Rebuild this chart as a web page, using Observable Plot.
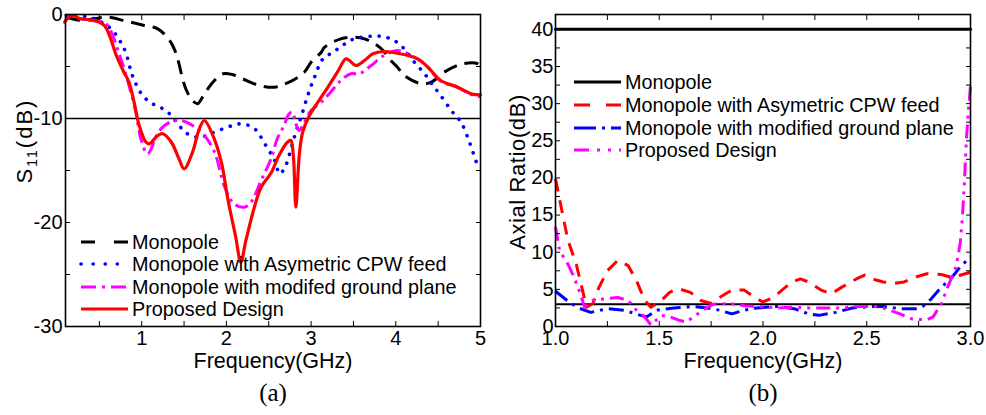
<!DOCTYPE html>
<html><head><meta charset="utf-8">
<script src="https://cdn.jsdelivr.net/npm/d3@7"></script>
<script src="https://cdn.jsdelivr.net/npm/@observablehq/plot@0.6"></script>
<style>
body{margin:0;background:#fff;}
#wrap{display:flex;width:986px;height:415px;overflow:hidden;}
#wrap svg{flex:none;}
</style></head><body><div id="wrap"></div>
<script>
// ---------- Panel (a): S11 (dB) vs Frequency (GHz) ----------
const seriesNamesA = ["Monopole", "Monopole with Asymetric CPW feed", "Monopole with modifed ground plane", "Proposed Design"];

const fA_mono = [0.11,0.30,0.44,0.60,0.79,1.03,1.19,1.33,1.40,1.52,1.60,1.66,1.74,1.84,1.96,2.07,2.19,2.39,2.57,2.66,2.78,2.92,3.00,3.12,3.16,3.35,3.51,3.63,3.75,3.85,3.94,4.02,4.10,4.30,4.42,4.57,4.79,4.97,5.00];
const sA_mono = [-0.26,-0.58,-0.41,-0.26,-0.58,-1.06,-1.38,-2.5,-3.63,-7.14,-8.27,-8.58,-7.63,-6.51,-5.70,-5.77,-6.18,-6.83,-6.99,-6.76,-6.35,-5.55,-4.59,-3.63,-3.14,-2.34,-2.18,-2.34,-2.82,-3.46,-4.42,-5.07,-5.87,-6.66,-6.51,-5.55,-4.74,-4.74,-5.07];

const fA_cpw = [0.11,0.38,0.62,0.74,0.81,0.89,1.01,1.13,1.25,1.35,1.44,1.54,1.68,1.82,2.01,2.17,2.33,2.45,2.57,2.63,2.70,2.76,2.82,2.88,2.96,3.04,3.14,3.26,3.37,3.51,3.71,3.85,3.98,4.10,4.22,4.34,4.44,4.53,4.67,4.77,4.87,4.97,5.00];
const sA_cpw = [-0.1,-0.26,-1.25,-2.5,-3.63,-5.87,-7.79,-8.59,-9.07,-9.71,-10.67,-11.47,-11.83,-11.44,-10.84,-10.51,-10.96,-12.40,-14.04,-15.32,-14.52,-13.0,-11.3,-9.9,-7.79,-6.03,-4.26,-3.63,-2.98,-2.34,-2.09,-2.12,-2.5,-3.3,-4.59,-5.7,-6.83,-7.79,-9.39,-10.36,-12.28,-14.52,-14.8];

const fA_gnd = [0.10,0.17,0.28,0.44,0.58,0.74,0.85,0.93,0.99,1.07,1.21,1.33,1.46,1.60,1.74,1.86,1.98,2.09,2.21,2.29,2.41,2.53,2.60,2.68,2.74,2.78,2.82,2.86,2.92,3.00,3.12,3.23,3.35,3.47,3.57,3.71,3.86,4.02,4.26,4.38,4.53,4.73,4.89,5.00];
const sA_gnd = [-0.6,-0.1,-0.4,-0.6,-0.9,-3.94,-6.83,-9.39,-11.95,-13.39,-11.15,-10.36,-10.19,-10.67,-11.63,-13.24,-16.6,-18.2,-18.53,-18.05,-15.96,-13.8,-11.95,-10.67,-9.55,-9.39,-10.51,-11.15,-10.36,-9.23,-8.43,-7.47,-6.35,-5.70,-5.70,-4.90,-3.94,-3.46,-4.3,-5.1,-6.4,-7.0,-7.7,-7.9];

const fA_prop = [0.09,0.17,0.28,0.44,0.56,0.62,0.70,0.78,0.85,0.91,0.97,1.05,1.09,1.19,1.25,1.35,1.44,1.50,1.60,1.68,1.74,1.84,1.94,2.02,2.11,2.17,2.23,2.33,2.41,2.53,2.62,2.72,2.76,2.79,2.82,2.86,2.90,2.98,3.08,3.21,3.31,3.41,3.45,3.53,3.63,3.73,3.86,4.02,4.26,4.38,4.53,4.73,4.89,5.00];
const sA_prop = [-0.74,-0.1,-0.41,-0.58,-1.06,-2.02,-3.94,-5.38,-6.51,-8.43,-10.67,-12.28,-12.43,-11.63,-11.47,-12.28,-13.88,-14.84,-13.24,-10.99,-10.19,-11.63,-14.2,-17.88,-21.41,-23.82,-21.73,-18.53,-16.61,-15.2,-13.56,-12.28,-12.12,-13.56,-18.53,-13.56,-11.32,-9.71,-8.43,-6.83,-5.55,-4.26,-4.42,-4.90,-4.42,-3.78,-3.56,-3.72,-4.26,-5.07,-6.35,-6.99,-7.63,-7.72];

const s11Threshold = [-10];
const xTickLabelsA = [1, 2, 3, 4, 5];
const yTickLabelsA = [0, -10, -20, -30];

// ---------- Panel (b): Axial Ratio (dB) vs Frequency (GHz) ----------
const seriesNamesB = ["Monopole", "Monopole with Asymetric CPW feed", "Monopole with modified ground plane", "Proposed Design"];

const fB_mono = [1.0, 3.0];
const arB_mono = [40, 40];

const fB_cpw = [1.0,1.04,1.06,1.10,1.13,1.15,1.18,1.21,1.25,1.30,1.35,1.39,1.43,1.46,1.51,1.55,1.59,1.65,1.70,1.75,1.79,1.85,1.91,1.96,2.00,2.05,2.10,2.14,2.18,2.22,2.28,2.33,2.38,2.45,2.49,2.54,2.58,2.63,2.68,2.74,2.79,2.86,2.91,2.95,3.00];
const arB_cpw = [19.9,14.3,11.6,8.4,4.9,2.6,3.1,5.3,7.5,8.9,8.2,6.2,3.5,2.6,3.5,4.6,5.1,4.6,3.5,3.1,3.9,4.9,4.9,3.9,3.3,3.9,5.1,6.0,6.4,6.0,4.9,4.4,5.3,6.4,6.9,6.3,6.0,5.8,6.0,6.7,7.1,7.0,6.6,6.9,7.3];

const fB_gnd = [1.0,1.056,1.11,1.17,1.25,1.33,1.41,1.44,1.49,1.57,1.66,1.73,1.79,1.85,1.91,1.97,2.07,2.15,2.22,2.27,2.35,2.43,2.53,2.58,2.66,2.74,2.77,2.81,2.86,2.91,2.95,3.00];
const arB_gnd = [4.75,3.5,2.5,1.9,2.4,2.2,1.5,1.3,2.2,2.5,2.7,2.5,2.2,1.7,2.2,2.5,2.7,2.4,1.7,1.5,1.9,2.5,2.7,2.7,2.4,2.4,2.7,3.7,5.3,6.6,8.0,9.4];

const fB_prop = [1.0,1.02,1.06,1.09,1.12,1.14,1.18,1.23,1.30,1.35,1.39,1.43,1.46,1.51,1.55,1.60,1.63,1.71,1.76,1.84,1.91,1.99,2.07,2.15,2.22,2.30,2.38,2.46,2.54,2.59,2.66,2.72,2.79,2.82,2.86,2.89,2.93,2.95,2.96,2.97,2.98,2.99,3.00];
const arB_prop = [13.4,10.2,8.4,6.6,4.4,2.6,3.5,3.7,3.9,3.5,2.2,1.3,0.2,1.5,1.3,0.8,0.6,2.2,3.0,3.1,2.8,2.7,2.5,2.6,2.5,2.5,2.5,2.7,2.7,2.4,1.7,1.0,0.9,1.3,3.1,5.3,8.0,11.1,14.3,19.0,25.1,29.1,32.4];

const arThreshold = [3];
const xTickLabelsB = [1.0, 1.5, 2.0, 2.5, 3.0];
const yTickLabelsB = [0, 5, 10, 15, 20, 25, 30, 35, 40];

// ---------- helpers ----------
const zipXY = (xs, ys) => xs.map((x, i) => ({x, y: ys[i]}));
const FONT = "'Liberation Sans', Arial, Helvetica, sans-serif";
const SERIF = "'Liberation Serif', 'Times New Roman', serif";
const hyphenInt = d => String(d);
const oneDec = d => d.toFixed(1);
const TICK_FS = 20;
const LEGEND_FS = 19.8;

function addLegend(svg, x0, rows, styles) {
  const g = d3.select(svg).append("g").attr("font-family", FONT).attr("font-size", LEGEND_FS)
    .attr("text-anchor", "start");
  rows.forEach((name, i) => {
    const s = styles[i];
    const y = s.y;
    g.append("line").attr("x1", x0).attr("x2", x0 + 47).attr("y1", y).attr("y2", y)
      .attr("stroke", s.stroke).attr("stroke-width", s.w).attr("stroke-dasharray", s.dash || null)
      .attr("stroke-linecap", s.cap || "butt");
    g.append("text").attr("x", x0 + 51).attr("y", y).attr("dy", "0.36em")
      .attr("text-anchor", "start").attr("fill", "black").text(name);
  });
}

function ticksEvery(a, b, step) { const out = []; for (let v = a; v <= b + 1e-9; v += step) out.push(+v.toFixed(4)); return out; }

// ---------- Panel (a) ----------
const plotA = Plot.plot({
  width: 493, height: 415,
  marginLeft: 65, marginRight: 13, marginTop: 14, marginBottom: 89,
  x: {domain: [0.1, 5]},
  y: {domain: [-30, 0]},
  style: {fontFamily: FONT, fontSize: "20px", color: "black", background: "white", overflow: "visible"},
  marks: [
    Plot.ruleY(s11Threshold, {stroke: "black", strokeWidth: 1.6}),
    Plot.line(zipXY(fA_mono, sA_mono), {x: "x", y: "y", stroke: "black", strokeWidth: 3, strokeDasharray: "14,8", strokeLinecap: "butt", curve: "catmull-rom"}),
    Plot.line(zipXY(fA_cpw, sA_cpw), {x: "x", y: "y", stroke: "#0000ff", strokeWidth: 3.6, strokeDasharray: "0.1,9", strokeLinecap: "round", curve: "catmull-rom"}),
    Plot.line(zipXY(fA_gnd, sA_gnd), {x: "x", y: "y", stroke: "#ff00ff", strokeWidth: 3, strokeDasharray: "13,5,3,5", strokeLinecap: "butt", curve: "catmull-rom"}),
    Plot.line(zipXY(fA_prop, sA_prop), {x: "x", y: "y", stroke: "#ff0000", strokeWidth: 3.2, curve: "catmull-rom"}),
    Plot.frame({stroke: "black", strokeWidth: 1.6}),
    Plot.axisX({anchor: "bottom", ticks: ticksEvery(0.5, 5, 0.5), tickSize: -5, tickFormat: () => "", label: null}),
    Plot.axisX({anchor: "top", ticks: ticksEvery(0.5, 5, 0.5), tickSize: -5, tickFormat: () => "", label: null}),
    Plot.axisY({anchor: "left", ticks: ticksEvery(-30, 0, 5), tickSize: -5, tickFormat: () => "", label: null}),
    Plot.axisY({anchor: "right", ticks: ticksEvery(-30, 0, 5), tickSize: -5, tickFormat: () => "", label: null}),
    Plot.axisX({anchor: "bottom", ticks: xTickLabelsA, tickSize: 0, tickPadding: 4, tickFormat: hyphenInt, label: null, fontSize: TICK_FS}),
    Plot.axisY({anchor: "left", ticks: yTickLabelsA, tickSize: 0, tickPadding: 3, tickFormat: hyphenInt, label: null, fontSize: TICK_FS}),
    Plot.text(["Frequency(GHz)"], {text: d => d, frameAnchor: "bottom", dy: 41, fontSize: 21.5}),
    Plot.text(["(a)"], {text: d => d, frameAnchor: "bottom", dy: 74, fontSize: 25, fontFamily: SERIF})
  ]
});

// ---------- Panel (b) ----------
const plotB = Plot.plot({
  width: 493, height: 415,
  marginLeft: 62, marginRight: 16, marginTop: 14, marginBottom: 89,
  x: {domain: [1, 3]},
  y: {domain: [0, 42]},
  style: {fontFamily: FONT, fontSize: "20px", color: "black", background: "white", overflow: "visible"},
  marks: [
    Plot.ruleY(arThreshold, {stroke: "black", strokeWidth: 2}),
    Plot.line(zipXY(fB_mono, arB_mono), {x: "x", y: "y", stroke: "black", strokeWidth: 3}),
    Plot.line(zipXY(fB_cpw, arB_cpw), {x: "x", y: "y", stroke: "#ff0000", strokeWidth: 3, strokeDasharray: "13,9", strokeLinecap: "butt"}),
    Plot.line(zipXY(fB_gnd, arB_gnd), {x: "x", y: "y", stroke: "#0000ff", strokeWidth: 3, strokeDasharray: "15,6,3,6", strokeLinecap: "butt"}),
    Plot.line(zipXY(fB_prop, arB_prop), {x: "x", y: "y", stroke: "#ff00ff", strokeWidth: 3, strokeDasharray: "14,6,3,6,3,6", strokeLinecap: "butt"}),
    Plot.frame({stroke: "black", strokeWidth: 1.6}),
    Plot.axisX({anchor: "bottom", ticks: ticksEvery(1, 3, 0.25), tickSize: -5, tickFormat: () => "", label: null}),
    Plot.axisX({anchor: "top", ticks: ticksEvery(1, 3, 0.25), tickSize: -5, tickFormat: () => "", label: null}),
    Plot.axisY({anchor: "left", ticks: ticksEvery(0, 40, 2.5), tickSize: -5, tickFormat: () => "", label: null}),
    Plot.axisY({anchor: "right", ticks: ticksEvery(0, 40, 2.5), tickSize: -5, tickFormat: () => "", label: null}),
    Plot.axisX({anchor: "bottom", ticks: xTickLabelsB, tickSize: 0, tickPadding: 4, tickFormat: oneDec, label: null, fontSize: TICK_FS}),
    Plot.axisY({anchor: "left", ticks: yTickLabelsB, tickSize: 0, tickPadding: 2, tickFormat: hyphenInt, label: null, fontSize: TICK_FS}),
    Plot.text(["Frequency(GHz)"], {text: d => d, frameAnchor: "bottom", dy: 41, fontSize: 21.5}),
    Plot.text(["(b)"], {text: d => d, frameAnchor: "bottom", dy: 74, fontSize: 25, fontFamily: SERIF})
  ]
});

// y-axis titles (S11 with subscript)
{
  const t = d3.select(plotA).append("text")
    .attr("transform", "translate(32,141) rotate(-90)")
    .attr("text-anchor", "middle").attr("font-family", FONT).attr("font-size", 22)
    .attr("letter-spacing", 2).attr("fill", "black");
  t.append("tspan").text("S");
  t.append("tspan").attr("font-size", 14).attr("dy", 5).text("11");
  t.append("tspan").attr("dy", -5).text("(dB)");
}
d3.select(plotB).append("text")
  .attr("transform", "translate(32,172) rotate(-90)")
  .attr("text-anchor", "middle").attr("font-family", FONT).attr("font-size", 22)
  .attr("letter-spacing", 0.6).attr("fill", "black")
  .text("Axial Ratio(dB)");

// legends
addLegend(plotA, 81, seriesNamesA, [
  {y: 242, stroke: "black", w: 3, dash: "14,19"},
  {y: 264, stroke: "#0000ff", w: 3.6, dash: "0.1,12", cap: "round"},
  {y: 287, stroke: "#ff00ff", w: 3, dash: "15,6,3,6"},
  {y: 309, stroke: "#ff0000", w: 3.2}
]);
addLegend(plotB, 81, seriesNamesB, [
  {y: 82, stroke: "black", w: 3},
  {y: 105, stroke: "#ff0000", w: 3, dash: "16,16"},
  {y: 128, stroke: "#0000ff", w: 3, dash: "22,6,3,6"},
  {y: 150, stroke: "#ff00ff", w: 3, dash: "15,8,3,8,3,8"}
]);

document.getElementById("wrap").append(plotA, plotB);
</script>
</body></html>
